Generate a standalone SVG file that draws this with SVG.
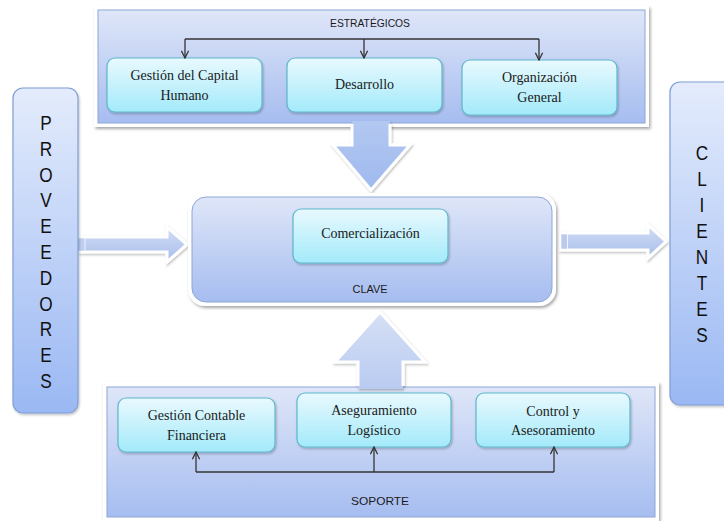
<svg xmlns="http://www.w3.org/2000/svg" width="724" height="521" viewBox="0 0 724 521">
  <defs>
    <linearGradient id="gPanel" x1="0" y1="0" x2="0" y2="1">
      <stop offset="0" stop-color="#dfe6f8"/>
      <stop offset="1" stop-color="#a6bdf0"/>
    </linearGradient>
    <linearGradient id="gSide" x1="0" y1="0" x2="0" y2="1">
      <stop offset="0" stop-color="#e4ecfc"/>
      <stop offset="1" stop-color="#9ab8f3"/>
    </linearGradient>
    <linearGradient id="gItem" x1="0" y1="0" x2="0" y2="1">
      <stop offset="0" stop-color="#e9f9fe"/>
      <stop offset="1" stop-color="#a3eafa"/>
    </linearGradient>
    <linearGradient id="gArrowH" x1="0" y1="0" x2="0" y2="1">
      <stop offset="0" stop-color="#d3def5"/>
      <stop offset="1" stop-color="#a7bdea"/>
    </linearGradient>
    <linearGradient id="gArrowV" x1="0" y1="0" x2="0" y2="1">
      <stop offset="0" stop-color="#b3c8f1"/>
      <stop offset="1" stop-color="#9fb9ee"/>
    </linearGradient>
    <linearGradient id="gArrowU" x1="0" y1="0" x2="0" y2="1">
      <stop offset="0" stop-color="#d6e0f6"/>
      <stop offset="1" stop-color="#b9cbf1"/>
    </linearGradient>
    <filter id="shadow" x="-10%" y="-10%" width="120%" height="130%">
      <feDropShadow dx="1.5" dy="2" stdDeviation="1.5" flood-color="#000" flood-opacity="0.35"/>
    </filter>
    <filter id="soft" x="-20%" y="-20%" width="140%" height="140%">
      <feDropShadow dx="1" dy="1.5" stdDeviation="1.2" flood-color="#000" flood-opacity="0.25"/>
    </filter>
    <marker id="open" viewBox="0 0 10 10" refX="9" refY="5" markerWidth="9" markerHeight="9" markerUnits="userSpaceOnUse" orient="auto">
      <path d="M1,1 L9,5 L1,9" fill="none" stroke="#333" stroke-width="1.4"/>
    </marker>
    <style>
      .panel { fill: url(#gPanel); stroke: #8ea6d6; stroke-width: 1; }
      .frame { fill: #fff; filter: url(#shadow); }
      .side { fill: url(#gSide); stroke: #7f9ed6; stroke-width: 1.2; filter: url(#soft); }
      .item { fill: url(#gItem); stroke: #5eb7cc; stroke-width: 1.2; filter: url(#soft); }
      .lbl { font-family: "Liberation Serif", "Times New Roman", serif; font-size: 14px; fill: #1a1a1a; text-anchor: middle; }
      .cap { font-family: "Liberation Sans", Arial, sans-serif; font-size: 11px; fill: #1a1a1a; text-anchor: middle; }
      .big { font-family: "Liberation Sans", Arial, sans-serif; font-size: 21px; fill: #111; text-anchor: middle; }
      .link { fill: none; stroke: #333; stroke-width: 1.3; }
      .barrow { stroke: none; }
      .bedge { fill: none; stroke: #fff; stroke-width: 3; stroke-linejoin: miter; }
    </style>
  </defs>

  <rect width="724" height="521" fill="#fff"/>

  <!-- Estratégicos panel -->
  <g id="estrategicos">
    <rect class="frame" x="94" y="6" width="555" height="121"/>
    <rect class="panel" x="98" y="10" width="547" height="113"/>
    <text class="cap" x="370" y="27" textLength="80" lengthAdjust="spacingAndGlyphs">ESTRATÉGICOS</text>
  </g>

  <!-- Soporte panel -->
  <g id="soporte">
    <rect class="frame" x="103" y="382" width="556" height="139"/>
    <rect class="panel" x="107" y="387" width="548" height="130"/>
    <text class="cap" x="380" y="505" textLength="58" lengthAdjust="spacingAndGlyphs">SOPORTE</text>
  </g>

  <!-- Block arrows -->
  <g id="block-arrows">
    <!-- down into CLAVE -->
    <g filter="url(#soft)">
      <path class="barrow" fill="url(#gArrowV)" d="M352,121 H390 V145 H410 L371,190 L333,145 H352 Z"/>
      <path class="bedge" d="M352,124 V145 H333 L371,190 L410,145 H390 V124"/>
    </g>
    <!-- up from SOPORTE -->
    <g filter="url(#soft)">
      <path class="barrow" fill="url(#gArrowU)" d="M358,389 V362 H335 L380,312 L425,362 H403 V389 Z"/>
      <path class="bedge" d="M358,386 V362 H335 L380,312 L425,362 H403 V386"/>
    </g>
    <!-- PROVEEDORES to CLAVE -->
    <g filter="url(#soft)">
      <path class="barrow" fill="url(#gArrowH)" d="M78,237 H167 V227 L187,244.5 L167,262 V252 H78 Z"/>
      <path class="bedge" d="M78,237 H167 V227 L187,244.5 L167,262 V252 H78"/>
      <rect x="79" y="238.5" width="5" height="12" fill="#c0cff0"/>
      <line x1="85" y1="238" x2="85" y2="251" stroke="#eef2fb" stroke-width="1"/>
    </g>
    <!-- CLAVE to CLIENTES -->
    <g filter="url(#soft)">
      <path class="barrow" fill="url(#gArrowH)" d="M560,233 H648 V225 L666,241.5 L648,258 V250 H560 Z"/>
      <path class="bedge" d="M560,233 H648 V225 L666,241.5 L648,258 V250 H560 Z"/>
      <rect x="561.5" y="234.5" width="5" height="14" fill="#b9caee"/>
      <line x1="567.5" y1="234" x2="567.5" y2="249" stroke="#eef2fb" stroke-width="1"/>
    </g>
  </g>

  <!-- CLAVE panel -->
  <g id="clave">
    <rect x="188" y="193" width="368" height="113" rx="17" fill="#fff" filter="url(#shadow)"/>
    <rect x="192" y="197" width="360" height="105" rx="14" fill="url(#gPanel)" stroke="#8ea6d6" stroke-width="1"/>
    <text class="cap" x="370" y="293" textLength="35" lengthAdjust="spacingAndGlyphs">CLAVE</text>
  </g>

  <!-- Side actors -->
  <g id="proveedores">
    <rect class="side" x="13" y="88" width="65" height="325" rx="10"/>
    <g transform="translate(46,0) scale(0.82,1)">
      <text class="big" x="0" y="130">P</text>
      <text class="big" x="0" y="155.8">R</text>
      <text class="big" x="0" y="181.6">O</text>
      <text class="big" x="0" y="207.4">V</text>
      <text class="big" x="0" y="233.2">E</text>
      <text class="big" x="0" y="259">E</text>
      <text class="big" x="0" y="284.8">D</text>
      <text class="big" x="0" y="310.6">O</text>
      <text class="big" x="0" y="336.4">R</text>
      <text class="big" x="0" y="362.2">E</text>
      <text class="big" x="0" y="388">S</text>
    </g>
  </g>

  <g id="clientes">
    <rect class="side" x="670" y="82" width="80" height="323" rx="10"/>
    <g transform="translate(702,0) scale(0.82,1)">
      <text class="big" x="0" y="160">C</text>
      <text class="big" x="0" y="186">L</text>
      <text class="big" x="0" y="212">I</text>
      <text class="big" x="0" y="238">E</text>
      <text class="big" x="0" y="264">N</text>
      <text class="big" x="0" y="290">T</text>
      <text class="big" x="0" y="316">E</text>
      <text class="big" x="0" y="342">S</text>
    </g>
  </g>

  <!-- Strategic processes -->
  <g id="gestion-capital-humano">
    <rect class="item" x="107" y="58" width="155" height="54" rx="8"/>
    <text class="lbl" x="184.5" y="80">Gestión del Capital</text>
    <text class="lbl" x="184.5" y="100">Humano</text>
  </g>
  <g id="desarrollo">
    <rect class="item" x="287" y="58" width="155" height="54" rx="8"/>
    <text class="lbl" x="364.5" y="89">Desarrollo</text>
  </g>
  <g id="organizacion-general">
    <rect class="item" x="462" y="60" width="155" height="55" rx="8"/>
    <text class="lbl" x="539.5" y="82">Organización</text>
    <text class="lbl" x="539.5" y="102">General</text>
  </g>

  <!-- Key process -->
  <g id="comercializacion">
    <rect class="item" x="293" y="209" width="155" height="54" rx="8"/>
    <text class="lbl" x="370.5" y="238">Comercialización</text>
  </g>

  <!-- Support processes -->
  <g id="gestion-contable">
    <rect class="item" x="118" y="398" width="157" height="54" rx="8"/>
    <text class="lbl" x="196.5" y="420">Gestión Contable</text>
    <text class="lbl" x="196.5" y="440">Financiera</text>
  </g>
  <g id="aseguramiento-logistico">
    <rect class="item" x="297" y="393" width="154" height="54" rx="8"/>
    <text class="lbl" x="374" y="415">Aseguramiento</text>
    <text class="lbl" x="374" y="435">Logístico</text>
  </g>
  <g id="control-asesoramiento">
    <rect class="item" x="476" y="393" width="154" height="54" rx="8"/>
    <text class="lbl" x="553" y="416">Control y</text>
    <text class="lbl" x="553" y="435">Asesoramiento</text>
  </g>

  <!-- Connectors -->
  <g id="connectors">
    <path class="link" d="M185,39 H539"/>
    <path class="link" d="M185,39 V58" marker-end="url(#open)"/>
    <path class="link" d="M364,39 V58" marker-end="url(#open)"/>
    <path class="link" d="M539,39 V60" marker-end="url(#open)"/>
    <path class="link" d="M196,472 H554"/>
    <path class="link" d="M196,472 V452" marker-end="url(#open)"/>
    <path class="link" d="M374,472 V447" marker-end="url(#open)"/>
    <path class="link" d="M554,472 V447" marker-end="url(#open)"/>
  </g>
</svg>
